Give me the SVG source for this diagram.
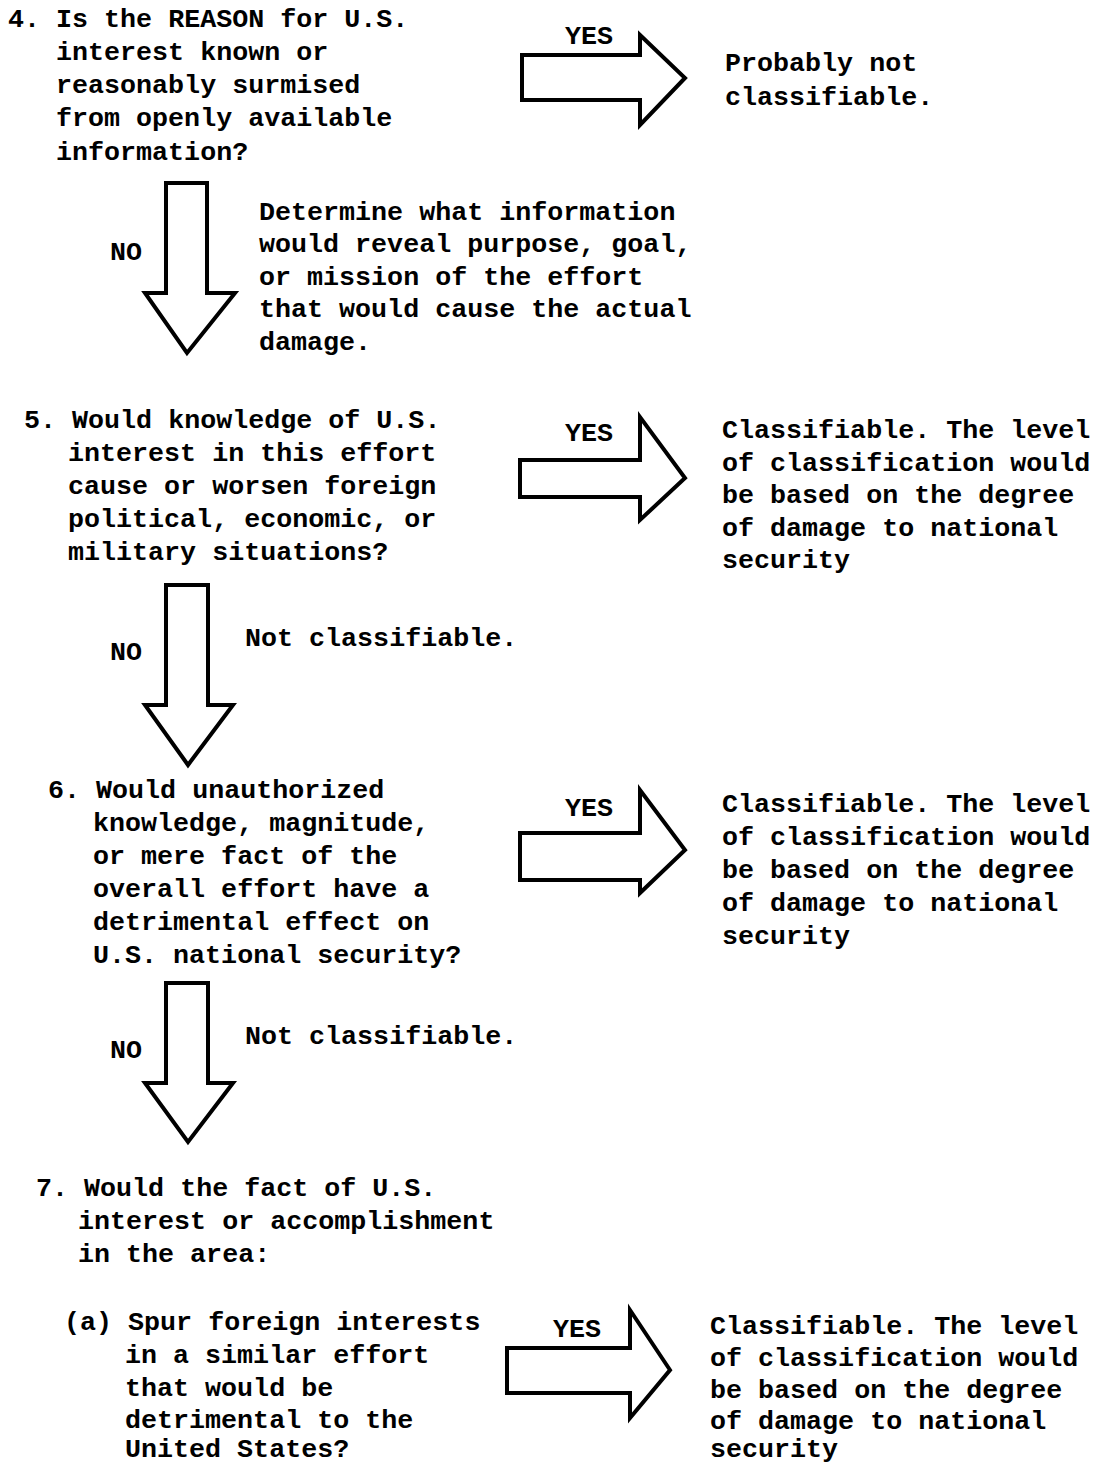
<svg xmlns="http://www.w3.org/2000/svg" width="1094" height="1464" viewBox="0 0 1094 1464">
<style>
text{font-family:"Liberation Mono","Courier New",monospace;font-size:26.7px;font-weight:bold;fill:#000}
.arr{fill:#fff;stroke:#000;stroke-width:4;stroke-linejoin:miter}
</style>
<rect width="1094" height="1464" fill="#fff"/>
<g id="connectors">
<path id="yes1" class="arr" d="M522,55 H640 V35 L685,78 L640,125 V100 H522 Z"/>
<path id="yes2" class="arr" d="M520,460 H640 V417 L685,478 L640,520 V497 H520 Z"/>
<path id="yes3" class="arr" d="M520,833 H640 V790 L685,850 L640,893 V880 H520 Z"/>
<path id="yes4" class="arr" d="M507,1348 H630 V1310 L670,1370 L630,1418 V1393 H507 Z"/>
<path id="no1" class="arr" d="M166,183 H207 V293 H235 L187,353 L145,293 H166 Z"/>
<path id="no2" class="arr" d="M166,585 H208 V705 H233 L188,765 L145,705 H166 Z"/>
<path id="no3" class="arr" d="M166,983 H208 V1083 H233 L188,1142 L145,1083 H166 Z"/>
<text x="565" y="44">YES</text>
<text x="565" y="441">YES</text>
<text x="565" y="816">YES</text>
<text x="553" y="1337">YES</text>
<text x="110" y="260">NO</text>
<text x="110" y="660">NO</text>
<text x="110" y="1058">NO</text>
</g>
<g id="q4">
<text x="8" y="27">4. Is the REASON for U.S.</text>
<text x="56" y="60">interest known or</text>
<text x="56" y="93">reasonably surmised</text>
<text x="56" y="126">from openly available</text>
<text x="56" y="160">information?</text>
</g>
<g id="r4">
<text x="725" y="71">Probably not</text>
<text x="725" y="105">classifiable.</text>
</g>
<g id="n4">
<text x="259" y="220">Determine what information</text>
<text x="259" y="252">would reveal purpose, goal,</text>
<text x="259" y="285">or mission of the effort</text>
<text x="259" y="317">that would cause the actual</text>
<text x="259" y="350">damage.</text>
</g>
<g id="q5">
<text x="24" y="428">5. Would knowledge of U.S.</text>
<text x="68" y="461">interest in this effort</text>
<text x="68" y="494">cause or worsen foreign</text>
<text x="68" y="527">political, economic, or</text>
<text x="68" y="560">military situations?</text>
</g>
<g id="r5">
<text x="722" y="438">Classifiable. The level</text>
<text x="722" y="471">of classification would</text>
<text x="722" y="503">be based on the degree</text>
<text x="722" y="536">of damage to national</text>
<text x="722" y="568">security</text>
</g>
<g id="n5">
<text x="245" y="646">Not classifiable.</text>
</g>
<g id="q6">
<text x="48" y="798">6. Would unauthorized</text>
<text x="93" y="831">knowledge, magnitude,</text>
<text x="93" y="864">or mere fact of the</text>
<text x="93" y="897">overall effort have a</text>
<text x="93" y="930">detrimental effect on</text>
<text x="93" y="963">U.S. national security?</text>
</g>
<g id="r6">
<text x="722" y="812">Classifiable. The level</text>
<text x="722" y="845">of classification would</text>
<text x="722" y="878">be based on the degree</text>
<text x="722" y="911">of damage to national</text>
<text x="722" y="944">security</text>
</g>
<g id="n6">
<text x="245" y="1044">Not classifiable.</text>
</g>
<g id="q7">
<text x="36" y="1196">7. Would the fact of U.S.</text>
<text x="78" y="1229">interest or accomplishment</text>
<text x="78" y="1262">in the area:</text>
</g>
<g id="q7a">
<text x="64" y="1330">(a) Spur foreign interests</text>
<text x="125" y="1363">in a similar effort</text>
<text x="125" y="1396">that would be</text>
<text x="125" y="1428">detrimental to the</text>
<text x="125" y="1457">United States?</text>
</g>
<g id="r7a">
<text x="710" y="1334">Classifiable. The level</text>
<text x="710" y="1366">of classification would</text>
<text x="710" y="1398">be based on the degree</text>
<text x="710" y="1429">of damage to national</text>
<text x="710" y="1457">security</text>
</g>
</svg>
